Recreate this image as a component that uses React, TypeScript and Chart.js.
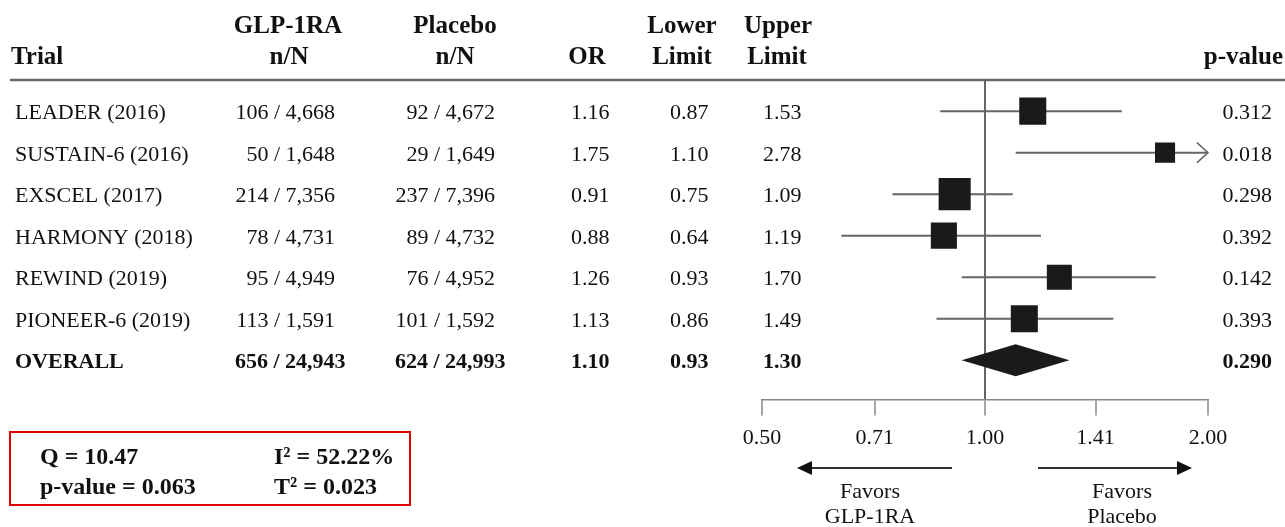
import { useEffect, useRef } from 'react';
import { Chart, registerables } from 'chart.js';

Chart.register(...registerables);

// ---------- data ----------
const trials = ['LEADER (2016)', 'SUSTAIN-6 (2016)', 'EXSCEL (2017)', 'HARMONY (2018)', 'REWIND (2019)', 'PIONEER-6 (2019)'];
const glpEvents = [106, 50, 214, 78, 95, 113];
const glpTotal = [4668, 1648, 7356, 4731, 4949, 1591];
const placeboEvents = [92, 29, 237, 89, 76, 101];
const placeboTotal = [4672, 1649, 7396, 4732, 4952, 1592];
const oddsRatios = [1.16, 1.75, 0.91, 0.88, 1.26, 1.13];
const lowerLimits = [0.87, 1.10, 0.75, 0.64, 0.93, 0.86];
const upperLimits = [1.53, 2.78, 1.09, 1.19, 1.70, 1.49];
const pValues = ['0.312', '0.018', '0.298', '0.392', '0.142', '0.393'];
const weights = [17.4, 9.6, 24.5, 16.2, 14.9, 17.4]; // % weight per study

const overallLabel = 'OVERALL';
const overallGlp = [656, 24943];
const overallPlacebo = [624, 24993];
const overallOR = 1.10;
const overallLower = 0.93;
const overallUpper = 1.30;
const overallP = '0.290';

const heterogeneity = { Q: '10.47', p: '0.063', I2: '52.22%', T2: '0.023' };

const xTicks = [0.5, 0.71, 1, 1.41, 2];

// ---------- styles ----------
const FONT = '"Liberation Serif", "Times New Roman", serif';
const TEXT = '#111111';
const LINE = '#666666';

const fmt = (n: number) => n.toLocaleString('en-US');

const forestPlugin = {
  id: 'forestDecor',
  afterDatasetsDraw(chart: any) {
    const { ctx, chartArea, scales } = chart;
    const x = scales.x;
    const y = scales.y;
    ctx.save();
    // overall diamond
    const yc = y.getPixelForValue(trials.length);
    ctx.fillStyle = '#1a1a1a';
    ctx.beginPath();
    ctx.moveTo(x.getPixelForValue(overallLower), yc);
    ctx.lineTo(x.getPixelForValue(overallOR), yc - 16);
    ctx.lineTo(x.getPixelForValue(overallUpper), yc);
    ctx.lineTo(x.getPixelForValue(overallOR), yc + 16);
    ctx.closePath();
    ctx.fill();
    // open arrow for truncated CIs
    ctx.strokeStyle = LINE;
    ctx.lineWidth = 1.5;
    upperLimits.forEach((u, i) => {
      if (u > x.max) {
        const px = chartArea.right;
        const py = y.getPixelForValue(i);
        ctx.beginPath();
        ctx.moveTo(px - 11, py - 10);
        ctx.lineTo(px, py);
        ctx.lineTo(px - 11, py + 10);
        ctx.stroke();
      }
    });
    ctx.restore();
  },
  afterDraw(chart: any) {
    const { ctx, chartArea, scales } = chart;
    const x = scales.x;
    const y = scales.y;
    ctx.save();
    ctx.fillStyle = TEXT;
    ctx.textBaseline = 'middle';

    // header
    ctx.font = `bold 25px ${FONT}`;
    const h1 = 27;
    const h2 = 58;
    ctx.textAlign = 'center';
    ctx.fillText('GLP-1RA', 288, h1);
    ctx.fillText('Placebo', 455, h1);
    ctx.fillText('Lower', 682, h1);
    ctx.fillText('Upper', 778, h1);
    ctx.fillText('n/N', 289, h2);
    ctx.fillText('n/N', 455, h2);
    ctx.fillText('OR', 587, h2);
    ctx.fillText('Limit', 682, h2);
    ctx.fillText('Limit', 777, h2);
    ctx.textAlign = 'left';
    ctx.fillText('Trial', 11, h2);
    ctx.textAlign = 'right';
    ctx.fillText('p-value', 1283, h2);

    // header rule
    ctx.strokeStyle = LINE;
    ctx.lineWidth = 2.5;
    ctx.beginPath();
    ctx.moveTo(10, chartArea.top);
    ctx.lineTo(1285, chartArea.top);
    ctx.stroke();

    // rows
    ctx.font = `22px ${FONT}`;
    trials.forEach((t, i) => {
      const py = y.getPixelForValue(i) + 2.5;
      ctx.textAlign = 'left';
      ctx.fillText(t, 15, py);
      ctx.textAlign = 'right';
      ctx.fillText(`${fmt(glpEvents[i])} / ${fmt(glpTotal[i])}`, 335, py);
      ctx.fillText(`${fmt(placeboEvents[i])} / ${fmt(placeboTotal[i])}`, 495, py);
      ctx.textAlign = 'left';
      ctx.fillText(oddsRatios[i].toFixed(2), 571, py);
      ctx.fillText(lowerLimits[i].toFixed(2), 670, py);
      ctx.fillText(upperLimits[i].toFixed(2), 763, py);
      ctx.textAlign = 'right';
      ctx.fillText(pValues[i], 1272, py);
    });
    // overall row
    ctx.font = `bold 22px ${FONT}`;
    const po = y.getPixelForValue(trials.length) + 2.5;
    ctx.textAlign = 'left';
    ctx.fillText(overallLabel, 15, po);
    ctx.fillText(`${fmt(overallGlp[0])} / ${fmt(overallGlp[1])}`, 235, po);
    ctx.fillText(`${fmt(overallPlacebo[0])} / ${fmt(overallPlacebo[1])}`, 395, po);
    ctx.fillText(overallOR.toFixed(2), 571, po);
    ctx.fillText(overallLower.toFixed(2), 670, po);
    ctx.fillText(overallUpper.toFixed(2), 763, po);
    ctx.textAlign = 'right';
    ctx.fillText(overallP, 1272, po);

    // favours arrows
    const cx = x.getPixelForValue(1);
    const ay = 468;
    ctx.strokeStyle = '#333333';
    ctx.fillStyle = '#111111';
    ctx.lineWidth = 2;
    const lTip = chartArea.left + 35;
    const lTail = cx - 33;
    const rTail = cx + 53;
    const rTip = chartArea.right - 16;
    ctx.beginPath();
    ctx.moveTo(lTail, ay);
    ctx.lineTo(lTip + 12, ay);
    ctx.moveTo(rTail, ay);
    ctx.lineTo(rTip - 12, ay);
    ctx.stroke();
    ctx.beginPath();
    ctx.moveTo(lTip, ay);
    ctx.lineTo(lTip + 15, ay - 7);
    ctx.lineTo(lTip + 15, ay + 7);
    ctx.closePath();
    ctx.moveTo(rTip, ay);
    ctx.lineTo(rTip - 15, ay - 7);
    ctx.lineTo(rTip - 15, ay + 7);
    ctx.closePath();
    ctx.fill();

    ctx.font = `22px ${FONT}`;
    ctx.fillStyle = TEXT;
    ctx.textAlign = 'center';
    ctx.fillText('Favors', 870, 492);
    ctx.fillText('GLP-1RA', 870, 517);
    ctx.fillText('Favors', 1122, 492);
    ctx.fillText('Placebo', 1122, 517);

    // heterogeneity box
    ctx.strokeStyle = '#e00000';
    ctx.lineWidth = 2;
    ctx.strokeRect(10, 432, 400, 73);
    ctx.font = `bold 24px ${FONT}`;
    ctx.textAlign = 'left';
    ctx.fillStyle = TEXT;
    ctx.fillText(`Q = ${heterogeneity.Q}`, 40, 458);
    ctx.fillText(`p-value = ${heterogeneity.p}`, 40, 488);
    ctx.fillText(`I\u00B2 = ${heterogeneity.I2}`, 274, 458);
    ctx.fillText(`T\u00B2 = ${heterogeneity.T2}`, 274, 488);
    ctx.restore();
  },
};

export default function App() {
  const ref = useRef<HTMLCanvasElement>(null);
  useEffect(() => {
    document.body.style.margin = '0';
    const canvas = ref.current!;
    const ciSets = trials.map((t, i) => ({
      type: 'line' as const,
      label: t,
      data: [
        { x: lowerLimits[i], y: i },
        { x: upperLimits[i], y: i },
      ],
      borderColor: LINE,
      borderWidth: 2,
      pointRadius: 0,
      order: 2,
    }));
    const chart = new Chart(canvas, {
      type: 'scatter',
      data: {
        datasets: [
          {
            type: 'scatter',
            label: 'OR',
            data: oddsRatios.map((v, i) => ({ x: v, y: i })),
            pointStyle: 'rect',
            // square side ~ 6.5 * sqrt(weight); Chart.js rect side = radius * sqrt(2)
            pointRadius: weights.map((w) => (6.48 * Math.sqrt(w)) / Math.SQRT2),
            backgroundColor: '#1a1a1a',
            borderWidth: 0,
            order: 1,
          } as any,
          ...ciSets,
        ],
      },
      options: {
        responsive: false,
        animation: false,
        events: [],
        layout: { padding: { left: 762, right: 77, top: 80, bottom: 67 } },
        plugins: { legend: { display: false }, tooltip: { enabled: false } },
        scales: {
          x: {
            type: 'logarithmic',
            min: 0.5,
            max: 2,
            afterBuildTicks: (scale: any) => {
              scale.ticks = xTicks.map((v) => ({ value: v }));
            },
            ticks: {
              autoSkip: false,
              maxRotation: 0,
              padding: 9,
              color: TEXT,
              font: { family: FONT, size: 22 },
              callback: (v: any) => Number(v).toFixed(2),
            },
            grid: {
              drawOnChartArea: true,
              drawTicks: true,
              tickLength: 16,
              tickWidth: 1.5,
              tickColor: '#888888',
              color: (c: any) => (c.tick && c.tick.value === 1 ? LINE : 'rgba(0,0,0,0)'),
              lineWidth: 2,
            },
            border: { display: true, color: '#888888', width: 1.5 },
          },
          y: {
            type: 'linear',
            display: false,
            reverse: true,
            min: -0.75,
            max: 6.95,
          },
        },
      },
      plugins: [forestPlugin],
    } as any);
    return () => chart.destroy();
  }, []);
  return (
    <div style={{ position: 'absolute', left: 0, top: 0, width: 1285, height: 527 }}>
      <canvas ref={ref} width={1285} height={527} style={{ width: 1285, height: 527, display: 'block' }} />
    </div>
  );
}
